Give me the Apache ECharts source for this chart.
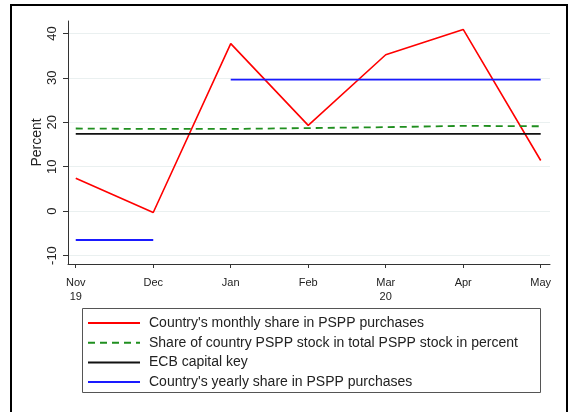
<!DOCTYPE html>
<html>
<head>
<meta charset="utf-8">
<script src="https://cdn.jsdelivr.net/npm/echarts@6/dist/echarts.min.js"></script>
<style>
  html, body { margin: 0; padding: 0; background: #fff; }
  #chart { width: 570px; height: 412px; }
</style>
</head>
<body>
<div id="chart"></div>
<script>
var months = ['Nov\n19', 'Dec', 'Jan', 'Feb', 'Mar\n20', 'Apr', 'May'];
var monthly_share = [7.4, -0.3, 37.7, 19.3, 35.2, 40.9, 11.4];
var stock_share = [18.6, 18.5, 18.5, 18.7, 18.9, 19.2, 19.1];
var capital_key = [17.4, 17.4, 17.4, 17.4, 17.4, 17.4, 17.4];
var yearly_share_2019 = [-6.5, -6.5, null, null, null, null, null];
var yearly_share_2020 = [null, null, 29.6, 29.6, 29.6, 29.6, 29.6];
var y_ticks = [-10, 0, 10, 20, 30, 40];
var x_ticks = [0, 1, 2, 3, 4, 5, 6];

function pairs(values) {
    return values.map(function (v, i) { return [i, v]; });
}

var chart = echarts.init(document.getElementById('chart'));
var font = 'Liberation Sans, Arial, sans-serif';

var name_monthly = "Country's monthly share in PSPP purchases";
var name_stock = 'Share of country PSPP stock in total PSPP stock in percent';
var name_key = 'ECB capital key';
var name_yearly = "Country's yearly share in PSPP purchases";

var option = {
    backgroundColor: '#fff',
    animation: false,
    textStyle: { fontFamily: font },
    grid: { left: 68, right: 20, top: 21, bottom: 148 },
    xAxis: {
        type: 'value',
        min: -0.1,
        max: 6.12,
        axisLine: { onZero: false, lineStyle: { color: '#333', width: 1 } },
        axisTick: { customValues: x_ticks, length: 4, lineStyle: { color: '#333' } },
        axisLabel: {
            customValues: x_ticks,
            fontSize: 11,
            color: '#222',
            lineHeight: 14,
            margin: 12,
            formatter: function (v) { return months[Math.round(v)]; }
        },
        splitLine: { show: false }
    },
    yAxis: {
        type: 'value',
        min: -11.9,
        max: 42.8,
        name: 'Percent',
        nameLocation: 'middle',
        nameGap: 24,
        nameMoveOverlap: false,
        nameTextStyle: { fontSize: 14, color: '#222' },
        axisLine: { show: true, onZero: false, lineStyle: { color: '#333', width: 1 } },
        axisTick: { show: true, customValues: y_ticks, length: 5, lineStyle: { color: '#333' } },
        axisLabel: {
            customValues: y_ticks,
            rotate: 90,
            fontSize: 13,
            color: '#222',
            margin: 9
        },
        splitLine: { show: true, lineStyle: { color: '#eaf0f0', width: 1 } }
    },
    legend: {
        orient: 'vertical',
        left: 82,
        top: 311,
        itemWidth: 52,
        itemHeight: 14,
        itemGap: 5.7,
        itemStyle: { opacity: 0 },
        textStyle: { fontSize: 14, color: '#222', fontFamily: font, padding: [0, 0, 0, 4] },
        data: [name_monthly, name_stock, name_key, name_yearly]
    },
    graphic: [
        {
            type: 'rect',
            shape: { x: 11, y: 5, width: 556, height: 420 },
            style: { fill: 'none', stroke: '#000', lineWidth: 2 },
            silent: true
        },
        {
            type: 'rect',
            shape: { x: 82.5, y: 308.5, width: 458, height: 84 },
            style: { fill: 'none', stroke: '#555', lineWidth: 1 },
            silent: true
        }
    ],
    series: [
        {
            name: name_monthly,
            type: 'line',
            symbol: 'none',
            data: pairs(monthly_share),
            lineStyle: { color: '#ff0000', width: 1.6 },
            itemStyle: { color: '#ff0000' }
        },
        {
            name: name_stock,
            type: 'line',
            symbol: 'none',
            data: pairs(stock_share),
            lineStyle: { color: '#1f8f1f', width: 1.8, type: [7, 5] },
            itemStyle: { color: '#1f8f1f' }
        },
        {
            name: name_key,
            type: 'line',
            symbol: 'none',
            data: pairs(capital_key),
            lineStyle: { color: '#111', width: 1.8 },
            itemStyle: { color: '#111' }
        },
        {
            name: name_yearly,
            type: 'line',
            symbol: 'none',
            data: pairs(yearly_share_2019),
            lineStyle: { color: '#1a1aff', width: 1.8 },
            itemStyle: { color: '#1a1aff' }
        },
        {
            name: name_yearly,
            type: 'line',
            symbol: 'none',
            data: pairs(yearly_share_2020),
            lineStyle: { color: '#1a1aff', width: 1.8 },
            itemStyle: { color: '#1a1aff' }
        }
    ]
};

chart.setOption(option);
</script>
</body>
</html>
